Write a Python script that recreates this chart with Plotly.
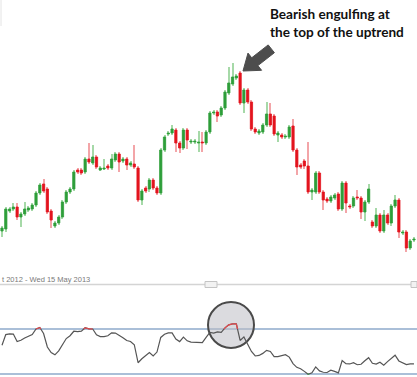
import plotly.graph_objects as go
import numpy as np

# ---- data (price units are arbitrary; no price axis is shown in the reference) ----
opens = [69,71,89,91,93,83,86,90,91,95, 107,116,111,89,74,77,83,98,108,111,
         130,130,128,141,137,143,130,131,134,132, 140,146,139,141,135,136,132,100,112,111,
         120,112,107,150,166,167,170,157,152,170, 158,158,157,158,157,168,187,188,185,192,
         207,216,222,227,197,210,198,171,167,168, 175,186,184,165,165,163,163,174,150,135,
         139,134,108,108,127,108,101,99,102,106, 91,117,94,94,103,102,88,98,78,74,
         85,69,85,77,94,100,67,68,52,60]
highs = [74,93,93,97,97,88,98,94,97,109, 117,121,113,91,79,85,100,110,113,130,
         132,132,143,157,155,145,134,141,136,146, 148,148,143,143,139,155,134,111,114,122,
         122,114,152,165,169,175,172,159,172,172, 161,161,169,168,170,189,190,190,194,210,
         233,237,226,229,212,212,200,173,171,177, 198,197,186,169,167,166,175,181,152,137,
         141,158,112,129,129,110,103,105,107,108, 119,119,96,104,110,104,100,116,80,92,
         87,90,87,96,105,102,70,70,61,63]
lows = [63,68,87,89,80,73,84,88,89,93, 105,107,86,72,72,75,81,96,106,109,
        126,125,126,136,135,131,129,130,130,130, 138,128,137,130,133,131,98,95,107,108,
        110,105,105,148,164,165,148,147,150,151, 156,156,148,148,155,166,185,178,183,190,
        205,214,220,195,187,196,169,166,165,166, 173,173,164,158,161,161,161,148,125,131,
        131,106,100,106,106,90,97,97,100,89, 89,87,91,92,100,81,79,96,72,72,
        67,67,75,74,92,62,65,48,50,58]
closes = [72,91,91,93,83,86,91,92,95,107, 115,109,88,80,77,83,98,108,111,128,
          128,127,141,138,143,133,132,132,132,141, 146,138,141,135,137,133,100,109,109,120,
          112,107,150,163,167,171,157,152,170,160, 159,159,158,157,168,187,188,184,192,208,
          217,223,224,197,210,198,171,168,169,175, 186,175,166,167,163,164,173,150,133,133,
          134,108,110,127,108,100,99,103,105,91, 117,97,93,102,102,88,98,111,74,85,
          69,85,77,94,100,68,68,52,59,61]
rsi = [55.5,65,65.7,65.5,58.8,60,62,63.5,65,70, 71.3,66,54,49,47,50.5,56.5,61.5,64,68,
       67.7,68.1,71.1,70.1,70,64.8,63.2,63.2,64,66.6, 66.4,63.9,62.2,59.8,58.9,56,40,43.5,46,49,
       46,49.5,62.5,65.3,66.5,66.6,61,58.8,62.8,59.5, 58.3,58,57.7,57.8,62.5,66.9,66.3,67.4,67,71,
       73.7,74.6,74.6,59.8,63,57,50,46,46.5,48.3, 51,50,45.5,45.5,46.5,47.2,45,39.2,35.9,34.6,
       32.3,29.7,31,36.3,32.7,31.5,31.3,33.3,32.3,31, 42,39.2,38.9,40.1,38.2,38.6,41.8,44.5,39.5,38.8,
       40.4,37.8,41,44,46.7,41.6,39.7,38.4,38.9,38.9]
rsi_levels = [70, 30]
date_label = "t 2012 - Wed 15 May 2013"
note_lines = ["Bearish engulfing at", "the top of the uptrend"]

x = list(range(len(opens)))
W, H = 417, 377

GREEN, RED = "#2e9e3a", "#e3141e"
GREEN_W, RED_W = "#a6d9a8", "#f3a5a8"

def seg(xs, ys, thr, above):
    """Parts of the line beyond a threshold, with crossing points interpolated."""
    ox, oy = [], []
    for i in range(len(ys) - 1):
        x0, y0, x1, y1 = xs[i], ys[i], xs[i + 1], ys[i + 1]
        in0 = y0 >= thr if above else y0 <= thr
        in1 = y1 >= thr if above else y1 <= thr
        if not in0 and not in1:
            continue
        def cross():
            t = (thr - y0) / (y1 - y0)
            return x0 + t * (x1 - x0)
        sx, sy = (x0, y0) if in0 else (cross(), thr)
        ex, ey = (x1, y1) if in1 else (cross(), thr)
        ox += [sx, ex, None]
        oy += [sy, ey, None]
    return ox, oy

up = [c >= o for o, c in zip(opens, closes)]
fig = go.Figure()
# wicks (light, thin bars from low to high)
fig.add_trace(go.Bar(
    x=x, y=[h - l for h, l in zip(highs, lows)], base=lows, width=0.27,
    marker=dict(color=[GREEN_W if u else RED_W for u in up], line=dict(width=0)),
    xaxis="x", yaxis="y", hoverinfo="skip"))
# bodies (strong bars from open to close)
body_lo = [min(o, c) for o, c in zip(opens, closes)]
body_h = [abs(c - o) for o, c in zip(opens, closes)]
body_col = [GREEN if u else RED for u in up]
fig.add_trace(go.Bar(
    x=x, y=body_h, base=body_lo, width=0.6,
    marker=dict(color=body_col, line=dict(color=body_col, width=0.8)),
    xaxis="x", yaxis="y", hoverinfo="skip"))

# RSI
fig.add_trace(go.Scatter(x=x, y=rsi, mode="lines", line=dict(color="#555555", width=1.2),
                         xaxis="x2", yaxis="y2", hoverinfo="skip"))
rx, ry = seg(x, rsi, rsi_levels[0], True)
fig.add_trace(go.Scatter(x=rx, y=ry, mode="lines", line=dict(color="#e8474b", width=1.2),
                         xaxis="x2", yaxis="y2", hoverinfo="skip"))
gx, gy = seg(x, rsi, rsi_levels[1], False)
fig.add_trace(go.Scatter(x=gx, y=gy, mode="lines", line=dict(color="#3fb04a", width=1.2),
                         xaxis="x2", yaxis="y2", hoverinfo="skip"))

xr = [-0.53, 109.8]
px = lambda v: v / W
py = lambda v: 1 - v / H

shapes = []
for lv in rsi_levels:
    shapes.append(dict(type="line", xref="x2 domain", yref="y2", x0=0, x1=1, y0=lv, y1=lv,
                       line=dict(color="#8eaacb", width=1.6), layer="below"))
# scroll bar line + handles
shapes.append(dict(type="line", xref="paper", yref="paper", x0=0, x1=1, y0=py(284.5), y1=py(284.5),
                   line=dict(color="#d4d4d4", width=1.6)))
shapes.append(dict(type="rect", xref="paper", yref="paper", x0=px(205), x1=px(217), y0=py(287.5), y1=py(281.5),
                   line=dict(color="#c4c4c4", width=1), fillcolor="#f2f2f2"))
shapes.append(dict(type="rect", xref="paper", yref="paper", x0=px(411), x1=px(417), y0=py(287.5), y1=py(281.5),
                   line=dict(color="#c4c4c4", width=1), fillcolor="#f2f2f2"))
# faint left frame line at top
shapes.append(dict(type="line", xref="paper", yref="paper", x0=px(1), x1=px(1), y0=py(0), y1=py(26),
                   line=dict(color="#e4e4e4", width=1)))
# highlight circle on RSI
shapes.append(dict(type="circle", xref="paper", yref="paper", x0=px(208), x1=px(254), y0=py(348), y1=py(302),
                   line=dict(color="#4a4a4a", width=2), fillcolor="rgba(190,190,196,0.55)", layer="below"))
# arrow
pts = [(243, 71), (261.6, 70.3), (257.9, 65.6), (274.4, 52.7), (268.2, 44.9), (251.7, 57.8), (248, 53.1)]
path = "M " + " L ".join(f"{px(a):.5f},{py(b):.5f}" for a, b in pts) + " Z"
shapes.append(dict(type="path", xref="paper", yref="paper", path=path,
                   line=dict(color="#4d4d4d", width=1), fillcolor="#4d4d4d"))

annotations = [
    dict(text="<br>".join(f"<b>{t}</b>" for t in note_lines), xref="paper", yref="paper",
         x=px(268), y=py(4), xanchor="left", yanchor="top",
         showarrow=False, align="left", font=dict(family="Lato", size=13.6, color="#111111")),
    dict(text=date_label, xref="paper", yref="paper", x=0, y=py(279), xanchor="left", yanchor="middle",
         showarrow=False, font=dict(family="Liberation Sans", size=7.5, color="#7a7a7a")),
]

fig.update_layout(
    width=W, height=H, margin=dict(l=0, r=0, t=0, b=0),
    paper_bgcolor="white", plot_bgcolor="white", showlegend=False, barmode="overlay",
    xaxis=dict(domain=[0, 1], range=xr, visible=False, anchor="y"),
    yaxis=dict(domain=[py(268), 1], range=[32, 300], visible=False),
    xaxis2=dict(domain=[0, 1], range=xr, visible=False, anchor="y2"),
    yaxis2=dict(domain=[0, py(290)], range=[27.3, 104.7], visible=False),
    shapes=shapes, annotations=annotations,
)
fig.write_html("out.html", config={"displayModeBar": False},
               post_script="document.body.style.margin='0';")
